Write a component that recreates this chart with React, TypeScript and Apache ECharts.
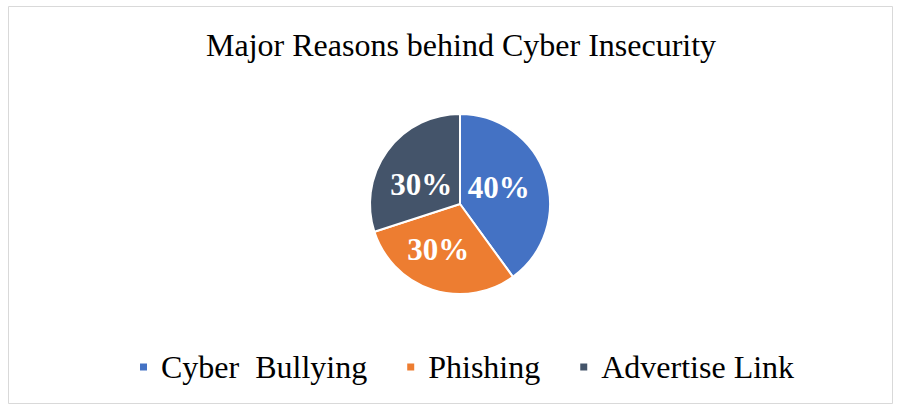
import React, { useEffect, useRef } from "react";
import * as echarts from "echarts";

const categories = ["Cyber  Bullying", "Phishing", "Advertise Link"];
const values = [40, 30, 30];
const colors = ["#4472C4", "#ED7D31", "#44546A"];
const titleText = "Major Reasons behind Cyber Insecurity";

// label nudges (styling only)
const labelOffsets: [number, number][] = [[-7, -2], [-7, 0], [0, 9]];

const FONT = "'Liberation Serif', 'Times New Roman', serif";

export default function App() {
  const ref = useRef<HTMLDivElement>(null);
  useEffect(() => {
    if (!ref.current) return;
    const chart = echarts.init(ref.current, undefined, { renderer: "svg" });
    chart.setOption({
      animation: false,
      backgroundColor: "#ffffff",
      title: {
        text: titleText,
        left: 201,
        top: 24,
        textStyle: { fontFamily: FONT, fontSize: 32, fontWeight: "normal", color: "#000000" },
      },
      graphic: [
        {
          type: "rect",
          shape: { x: 8.5, y: 6.5, width: 884, height: 397 },
          style: { fill: "none", stroke: "#D9D9D9", lineWidth: 1 },
          silent: true,
          z: -1,
        },
      ],
      legend: {
        top: 346,
        left: 133,
        icon: "rect",
        itemWidth: 9,
        itemHeight: 9,
        itemGap: 38,
        textStyle: { fontFamily: FONT, fontSize: 32, color: "#000000", padding: [0, 0, 0, 8] },
        data: categories,
      },
      series: [
        {
          type: "pie",
          center: [460, 204],
          radius: 90,
          startAngle: 90,
          clockwise: true,
          data: categories.map((c, i) => ({
            name: c,
            value: values[i],
            itemStyle: { color: colors[i] },
            label: { offset: labelOffsets[i] },
          })),
          itemStyle: { borderColor: "#ffffff", borderWidth: 2 },
          label: {
            show: true,
            position: "inside",
            formatter: "{d}%",
            fontFamily: FONT,
            fontSize: 31,
            fontWeight: "bold",
            color: "#ffffff",
          },
          labelLine: { show: false },
        },
      ],
    });
    return () => chart.dispose();
  }, []);
  return (
    <div
      ref={ref}
      style={{ position: "absolute", left: 0, top: 0, width: 900, height: 409 }}
    />
  );
}
